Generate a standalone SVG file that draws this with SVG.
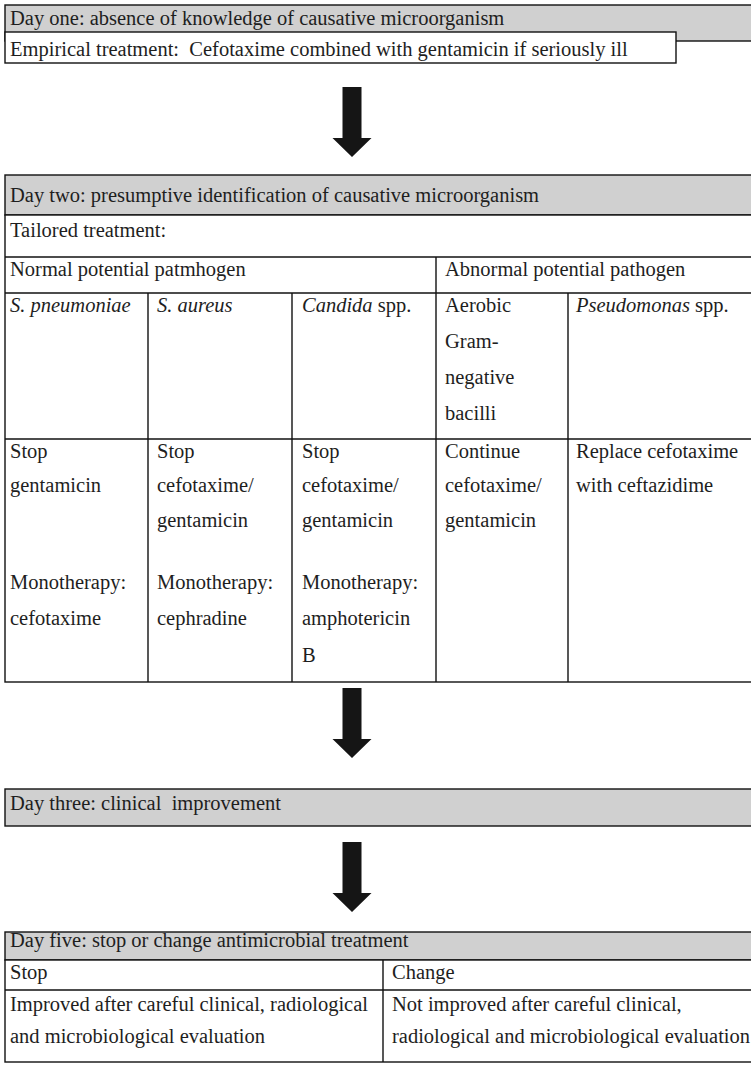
<svg xmlns="http://www.w3.org/2000/svg" width="751" height="1073" viewBox="0 0 751 1073">
  <style>
    text { font-family: "Liberation Serif", "Times New Roman", serif; font-size: 20.5px; fill: #1e1e1e; }
    .it { font-style: italic; }
    .hdr { fill: #d0d0d0; stroke: #111; stroke-width: 1.4; }
    .cell { fill: #ffffff; stroke: #111; stroke-width: 1.4; }
    .ln { stroke: #111; stroke-width: 1.4; fill: none; }
    .arrow { fill: #151515; }
  </style>
  <defs>
    <!-- block arrow, tip at origin -->
    <path id="blockArrow" d="M-9.5,-70 H9.5 V-19 H19.5 L0,0 L-19.5,-19 H-9.5 Z"/>
  </defs>

  <rect width="751" height="1073" fill="#ffffff"/>

  <!-- Day one -->
  <g id="day-one">
    <rect class="hdr" x="5" y="5" width="760" height="36"/>
    <rect class="cell" x="5" y="32" width="671" height="31"/>
    <text x="10" y="25">Day one: absence of knowledge of causative microorganism</text>
    <text x="10" y="56" xml:space="preserve">Empirical treatment:  Cefotaxime combined with gentamicin if seriously ill</text>
  </g>

  <!-- Day two -->
  <g id="day-two">
    <rect class="hdr" x="5" y="175" width="760" height="40"/>
    <rect class="cell" x="5" y="215" width="760" height="467"/>
    <line class="ln" x1="5" y1="257" x2="751" y2="257"/>
    <line class="ln" x1="5" y1="293" x2="751" y2="293"/>
    <line class="ln" x1="5" y1="439" x2="751" y2="439"/>
    <line class="ln" x1="436" y1="257" x2="436" y2="682"/>
    <line class="ln" x1="148" y1="293" x2="148" y2="682"/>
    <line class="ln" x1="292" y1="293" x2="292" y2="682"/>
    <line class="ln" x1="568" y1="293" x2="568" y2="682"/>

    <text x="10" y="202">Day two: presumptive identification of causative microorganism</text>
    <text x="10" y="237">Tailored treatment:</text>
    <text x="10" y="276">Normal potential patmhogen</text>
    <text x="445" y="276">Abnormal potential pathogen</text>

    <text x="10" y="312" class="it">S. pneumoniae</text>
    <text x="157" y="312" class="it">S. aureus</text>
    <text x="302" y="312"><tspan class="it">Candida</tspan> spp.</text>
    <text x="445" y="312">Aerobic</text>
    <text x="445" y="348">Gram-</text>
    <text x="445" y="384">negative</text>
    <text x="445" y="420">bacilli</text>
    <text x="576" y="312"><tspan class="it">Pseudomonas</tspan> spp.</text>

    <text x="10" y="458">Stop</text>
    <text x="10" y="492">gentamicin</text>
    <text x="10" y="589">Monotherapy:</text>
    <text x="10" y="625">cefotaxime</text>

    <text x="157" y="458">Stop</text>
    <text x="157" y="492">cefotaxime/</text>
    <text x="157" y="527">gentamicin</text>
    <text x="157" y="589">Monotherapy:</text>
    <text x="157" y="625">cephradine</text>

    <text x="302" y="458">Stop</text>
    <text x="302" y="492">cefotaxime/</text>
    <text x="302" y="527">gentamicin</text>
    <text x="302" y="589">Monotherapy:</text>
    <text x="302" y="625">amphotericin</text>
    <text x="302" y="662">B</text>

    <text x="445" y="458">Continue</text>
    <text x="445" y="492">cefotaxime/</text>
    <text x="445" y="527">gentamicin</text>

    <text x="576" y="458">Replace cefotaxime</text>
    <text x="576" y="492">with ceftazidime</text>
  </g>

  <!-- Day three -->
  <g id="day-three">
    <rect class="hdr" x="5" y="789" width="760" height="37"/>
    <text x="10" y="810" xml:space="preserve">Day three: clinical  improvement</text>
  </g>

  <!-- Day five -->
  <g id="day-five">
    <rect class="hdr" x="5" y="932" width="760" height="28"/>
    <rect class="cell" x="5" y="960" width="760" height="102"/>
    <line class="ln" x1="5" y1="990" x2="751" y2="990"/>
    <line class="ln" x1="383" y1="960" x2="383" y2="1062"/>
    <text x="10" y="947">Day five: stop or change antimicrobial treatment</text>
    <text x="10" y="979">Stop</text>
    <text x="392" y="979">Change</text>
    <text x="10" y="1011">Improved after careful clinical, radiological</text>
    <text x="10" y="1043">and microbiological evaluation</text>
    <text x="392" y="1011">Not improved after careful clinical,</text>
    <text x="392" y="1043">radiological and microbiological evaluation</text>
  </g>

  <!-- connectors -->
  <g id="connectors">
    <use href="#blockArrow" class="arrow" x="352" y="157"/>
    <use href="#blockArrow" class="arrow" x="352" y="758"/>
    <use href="#blockArrow" class="arrow" x="352" y="912"/>
  </g>
</svg>
